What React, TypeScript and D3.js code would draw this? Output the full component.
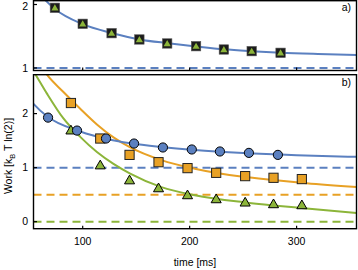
import * as d3 from "d3";

// ---- data ----
const topPtTimes = [74, 100, 127, 153, 179, 206, 232, 258, 285];
const topPtValues = [1.948, 1.696, 1.548, 1.449, 1.386, 1.343, 1.291, 1.265, 1.239];
const topCurveTimes = [58, 65, 74, 100, 127, 153, 180, 206, 232, 258, 285, 320, 356];
const topCurveValues = [2.2, 2.07, 1.93, 1.69, 1.55, 1.45, 1.39, 1.34, 1.295, 1.265, 1.24, 1.22, 1.205];

const circleTimes = [67.6, 94.7, 121.8, 148, 175, 202, 228.3, 255.4, 282.5];
const circleValues = [1.926, 1.686, 1.539, 1.446, 1.373, 1.336, 1.299, 1.273, 1.236];
const squareTimes = [89, 116.4, 143.8, 170.9, 198, 224.8, 251.9, 278.4, 304.9];
const squareValues = [2.196, 1.539, 1.236, 1.101, 0.991, 0.904, 0.843, 0.812, 0.788];
const triangleTimes = [89, 116.4, 143.8, 170.9, 198, 224.8, 251.9, 278.4, 304.9];
const triangleValues = [1.692, 1.046, 0.769, 0.622, 0.493, 0.419, 0.358, 0.327, 0.308];

const blueCurveTimes = [50, 54, 66.6, 97.7, 122.6, 144.4, 173.6, 204.8, 250, 300, 356];
const blueCurveValues = [2.27, 2.18, 1.95, 1.67, 1.53, 1.45, 1.38, 1.325, 1.27, 1.23, 1.2];
const orangeCurveTimes = [62, 66.6, 82, 97.7, 113.3, 128.8, 144, 173.6, 204.8, 250, 278.3, 309.4, 356];
const orangeCurveValues = [2.85, 2.72, 2.4, 2.09, 1.8, 1.56, 1.38, 1.14, 0.98, 0.83, 0.77, 0.71, 0.64];
const greenCurveTimes = [52, 56, 66.6, 82, 97.7, 113.3, 128.8, 144.4, 173.6, 204.8, 250, 278.3, 309.4, 356];
const greenCurveValues = [2.85, 2.72, 2.37, 1.91, 1.57, 1.29, 1.07, 0.89, 0.64, 0.49, 0.36, 0.3, 0.245, 0.16];

const topLimits = [1];
const bottomLimits = [1, 0.5, 0]; // blue, orange, green
const xTicks = [100, 200, 300];
const topYTicks = [1, 2];
const bottomYTicks = [0, 1, 2];

const BLUE = "#5b80c0";
const ORANGE = "#e8a125";
const GREEN = "#8cb53a";
const FONT = "Liberation Sans, Arial, sans-serif";

export default function App() {
  const left = 33.5;
  const right = 356.5;
  const topPanel = { y0: 0.7, y1: 70.5 };
  const botPanel = { y0: 74.7, y1: 228.7 };

  const x = d3.scaleLinear().domain([54, 356]).range([left, right]);
  const yTop = d3.scaleLinear().domain([0.96, 2.06]).range([topPanel.y1, topPanel.y0]);
  const yBot = d3.scaleLinear().domain([-0.13, 2.72]).range([botPanel.y1, botPanel.y0]);

  const lineTop = d3.line<number>().x((_, i) => x(topCurveTimes[i])).y(d => yTop(d)).curve(d3.curveMonotoneX);
  const mk = (times: number[]) =>
    d3.line<number>().x((_, i) => x(times[i])).y(d => yBot(d)).curve(d3.curveMonotoneX);

  const curves = [
    { times: greenCurveTimes, values: greenCurveValues, color: GREEN },
    { times: orangeCurveTimes, values: orangeCurveValues, color: ORANGE },
    { times: blueCurveTimes, values: blueCurveValues, color: BLUE },
  ];
  const limitColors = [BLUE, ORANGE, GREEN];

  const tri = d3.symbol(d3.symbolTriangle, 44)()!;
  const triSmall = d3.symbol(d3.symbolTriangle, 22)()!;

  return (
    <svg width={358} height={270} style={{ position: "absolute", left: 0, top: 0 }} fontFamily={FONT}>
      <defs>
        <clipPath id="clipTop">
          <rect x={left} y={topPanel.y0} width={right - left} height={topPanel.y1 - topPanel.y0} />
        </clipPath>
        <clipPath id="clipBot">
          <rect x={left} y={botPanel.y0} width={right - left} height={botPanel.y1 - botPanel.y0} />
        </clipPath>
      </defs>

      {/* panel a */}
      <g clipPath="url(#clipTop)">
        {topLimits.map((v, i) => (
          <line key={i} x1={left} x2={right} y1={yTop(v)} y2={yTop(v)} stroke={BLUE} strokeWidth={2} strokeDasharray="8,5" />
        ))}
        <path d={lineTop(topCurveValues)!} fill="none" stroke={BLUE} strokeWidth={2} />
        {topPtValues.map((v, i) => (
          <g key={i} transform={`translate(${x(topPtTimes[i])},${yTop(v)})`}>
            <rect x={-4.7} y={-4.7} width={9.4} height={9.4} fill="#1c1c1c" stroke="#555" strokeWidth={0.6} />
            <path d={triSmall} fill={GREEN} transform="translate(0,0.6)" />
          </g>
        ))}
      </g>
      <rect x={left} y={topPanel.y0} width={right - left} height={topPanel.y1 - topPanel.y0} fill="none" stroke="#000" strokeWidth={1.4} />
      {topYTicks.map(t => (
        <g key={t}>
          <line x1={left} x2={left + 3.5} y1={yTop(t)} y2={yTop(t)} stroke="#000" strokeWidth={1.2} />
          <text x={28} y={Math.max(yTop(t) + 3.8, 9.5)} fontSize={10.5} textAnchor="end">{t}</text>
        </g>
      ))}
      {xTicks.map(t => (
        <line key={t} x1={x(t)} x2={x(t)} y1={topPanel.y1} y2={topPanel.y1 - 3} stroke="#000" strokeWidth={1.2} />
      ))}
      <text x={351} y={11} fontSize={10.5} textAnchor="end">a)</text>

      {/* panel b */}
      <g clipPath="url(#clipBot)">
        {bottomLimits.map((v, i) => (
          <line key={i} x1={left} x2={right} y1={yBot(v)} y2={yBot(v)} stroke={limitColors[i]} strokeWidth={2} strokeDasharray="8,5" />
        ))}
        {curves.map((c, i) => (
          <path key={i} d={mk(c.times)(c.values)!} fill="none" stroke={c.color} strokeWidth={2} />
        ))}
        {triangleValues.map((v, i) => (
          <path key={`t${i}`} d={tri} transform={`translate(${x(triangleTimes[i])},${yBot(v) + 0.8})`} fill={GREEN} stroke="#000" strokeWidth={1} />
        ))}
        {squareValues.map((v, i) => (
          <rect key={`s${i}`} x={x(squareTimes[i]) - 4.6} y={yBot(v) - 4.6} width={9.2} height={9.2} fill={ORANGE} stroke="#222" strokeWidth={1} />
        ))}
        {circleValues.map((v, i) => (
          <circle key={`c${i}`} cx={x(circleTimes[i])} cy={yBot(v)} r={4.6} fill={BLUE} stroke="#000" strokeWidth={1} />
        ))}
      </g>
      <rect x={left} y={botPanel.y0} width={right - left} height={botPanel.y1 - botPanel.y0} fill="none" stroke="#000" strokeWidth={1.4} />
      {bottomYTicks.map(t => (
        <g key={t}>
          <line x1={left} x2={left + 3.5} y1={yBot(t)} y2={yBot(t)} stroke="#000" strokeWidth={1.2} />
          <text x={28} y={yBot(t) + 3.8} fontSize={10.5} textAnchor="end">{t}</text>
        </g>
      ))}
      {xTicks.map(t => (
        <g key={t}>
          <line x1={x(t)} x2={x(t)} y1={botPanel.y1} y2={botPanel.y1 - 3} stroke="#000" strokeWidth={1.2} />
          <text x={x(t)} y={245} fontSize={10.5} textAnchor="middle">{t}</text>
        </g>
      ))}
      <text x={351} y={86} fontSize={10.5} textAnchor="end">b)</text>

      <text x={195} y={266} fontSize={10.5} textAnchor="middle">time [ms]</text>
      <text transform="translate(12,156) rotate(-90)" fontSize={10.5} textAnchor="middle">
        Work [k<tspan fontSize={7.5} dy={2.5}>B</tspan><tspan dy={-2.5}> T ln(2)]</tspan>
      </text>
    </svg>
  );
}
